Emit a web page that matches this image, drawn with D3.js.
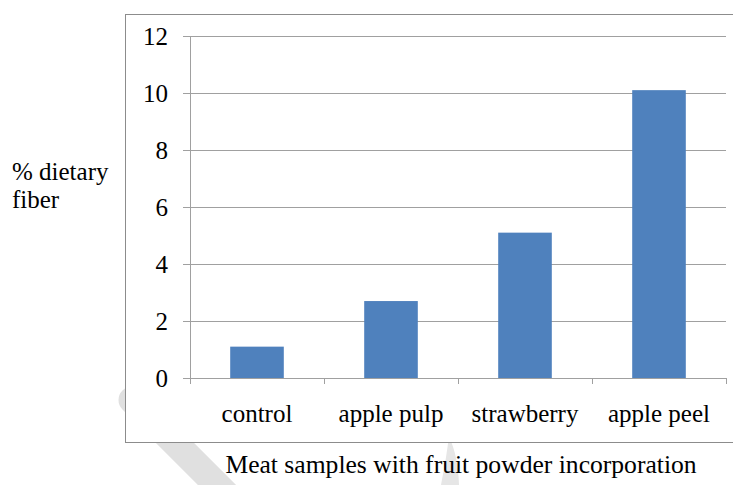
<!DOCTYPE html>
<html>
<head>
<meta charset="utf-8">
<script src="https://cdn.jsdelivr.net/npm/d3@7"></script>
</head>
<body style="margin:0;background:#fff">
<svg id="fig" width="733" height="485" style="display:block"></svg>
<script>
const categories = ["control", "apple pulp", "strawberry", "apple peel"];
const values = [1.1, 2.7, 5.1, 10.1];
const yTicks = [0, 2, 4, 6, 8, 10, 12];
const yLabelLines = ["% dietary", "fiber"];
const xTitle = "Meat samples with fruit powder incorporation";

const FONT = '"Liberation Serif", serif';

const svg = d3.select("#fig");

// faint watermark shapes behind the chart box
svg.append("line")
  .attr("x1", 132).attr("y1", 400).attr("x2", 275).attr("y2", 543)
  .attr("stroke", "#e0e0e0").attr("stroke-width", 27).attr("stroke-linecap", "round");
svg.append("path")
  .attr("d", "M449,437 Q458,455 459,485 L441,485 Q446,460 449,437 Z")
  .attr("fill", "#e6e6e6");

// chart box
svg.append("rect")
  .attr("x", 125.5).attr("y", 14.5).attr("width", 620).attr("height", 428)
  .attr("fill", "#fff").attr("stroke", "#8c8c8c").attr("stroke-width", 1);

const x = d3.scaleBand().domain(categories).range([190, 726])
  .paddingInner(0.6).paddingOuter(0.3);
const y = d3.scaleLinear().domain([0, 12]).range([378, 36]);

// gridlines
svg.append("g").selectAll("line").data(yTicks).join("line")
  .attr("x1", 183).attr("x2", 726)
  .attr("y1", d => Math.round(y(d)) + 0.5).attr("y2", d => Math.round(y(d)) + 0.5)
  .attr("stroke", "#a0a0a0").attr("stroke-width", 1);

// y axis line
svg.append("line")
  .attr("x1", 190.5).attr("x2", 190.5).attr("y1", 36).attr("y2", 384)
  .attr("stroke", "#a0a0a0");

// category boundary ticks
const step = x.step();
const bounds = d3.range(categories.length + 1).map(i => 190 + i * step);
svg.append("g").selectAll("line").data(bounds).join("line")
  .attr("x1", d => Math.round(d) + 0.5).attr("x2", d => Math.round(d) + 0.5)
  .attr("y1", 378).attr("y2", 384)
  .attr("stroke", "#a0a0a0");

// bars
svg.append("g").selectAll("rect").data(values).join("rect")
  .attr("x", (d, i) => x(categories[i]))
  .attr("width", x.bandwidth())
  .attr("y", d => y(d))
  .attr("height", d => y(0) - y(d))
  .attr("fill", "#4f81bd");

function styleText(sel, size) {
  return sel.attr("font-size", size || 25)
    .style("font-family", FONT, "important")
    .style("fill", "#000");
}

// y tick labels
svg.append("g").selectAll("text").data(yTicks).join("text")
  .attr("x", 168).attr("y", d => y(d) + 9)
  .attr("text-anchor", "end").call(styleText)
  .text(d => d);

// category labels
svg.append("g").selectAll("text").data(categories).join("text")
  .attr("x", d => x(d) + x.bandwidth() / 2).attr("y", 422)
  .attr("text-anchor", "middle").call(styleText)
  .text(d => d);

// y label
svg.append("g").selectAll("text").data(yLabelLines).join("text")
  .attr("x", 12).attr("y", (d, i) => 180 + i * 28)
  .call(styleText)
  .text(d => d);

// x title
svg.append("text")
  .attr("x", 461).attr("y", 473).attr("text-anchor", "middle")
  .call(styleText, 25.6).text(xTitle);
</script>
</body>
</html>
